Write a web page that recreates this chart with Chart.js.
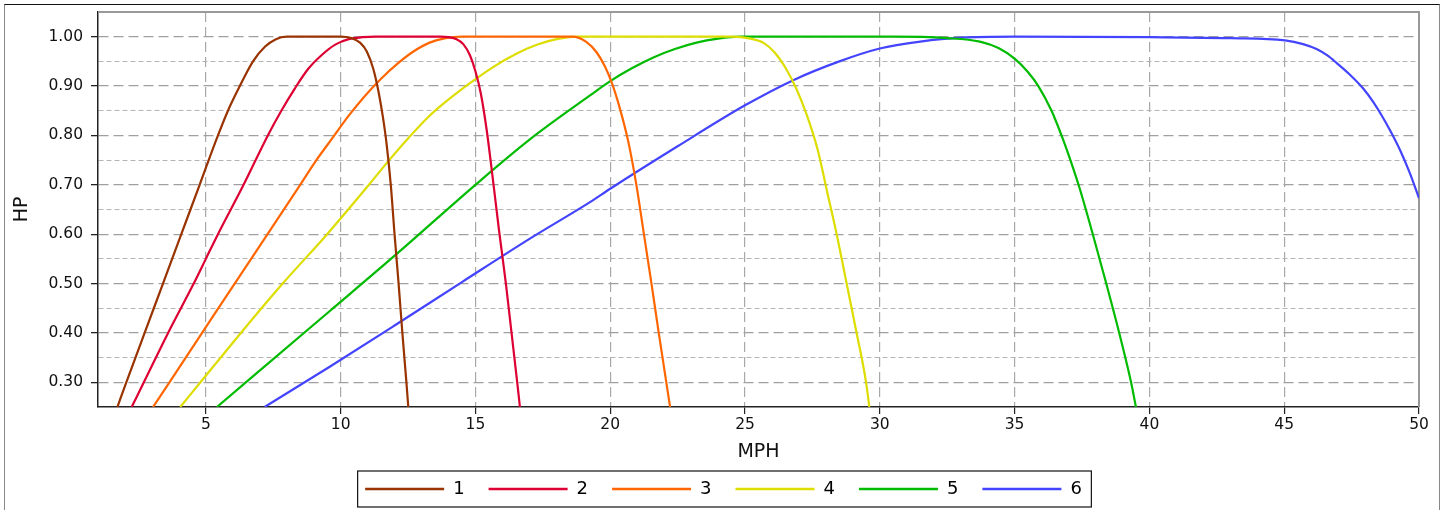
<!DOCTYPE html>
<html>
<head>
<meta charset="utf-8">
<script src="https://cdn.jsdelivr.net/npm/chart.js@4.4.1/dist/chart.umd.min.js"></script>
<style>
  html, body { margin: 0; padding: 0; background: #fff; }
  #wrap { position: relative; width: 1447px; height: 510px; overflow: hidden; }
  #frame { position: absolute; left: 4px; top: 4px; width: 1436px; height: 600px; box-sizing: border-box;
           border: 1.5px solid #888; border-top-color: #111; }
  #myChart { position: absolute; left: 0; top: 0; }
</style>
</head>
<body>
<div id="wrap">
  <div id="frame"></div>
  <canvas id="myChart" width="1447" height="510"></canvas>
</div>
<script>
// gear power curves (MPH -> HP fraction)
const seriesNames = ['1', '2', '3', '4', '5', '6'];
const seriesColors = ['#993300', '#DD0033', '#FF6600', '#DDDD00', '#00BB00', '#4444FF'];

const gear1X = [1.72, 2.05, 2.73, 3.41, 4.09, 4.77, 5.45, 5.82, 6.26, 6.75, 7.2, 7.6, 8.0, 9.0, 10.0, 10.4, 10.72, 10.97, 11.21, 11.4, 11.56, 11.7, 11.86, 12.0, 12.15, 12.29, 12.44, 12.51];
const gear1Y = [0.25, 0.30, 0.40, 0.50, 0.60, 0.70, 0.80, 0.85, 0.90, 0.95, 0.98, 0.995, 1.0, 1.0, 1.0, 0.997, 0.988, 0.97, 0.935, 0.89, 0.84, 0.785, 0.70, 0.60, 0.50, 0.40, 0.30, 0.25];

const gear2X = [2.25, 2.7, 3.6, 4.55, 5.0, 5.45, 6.4, 7.3, 7.8, 8.3, 8.8, 9.3, 9.8, 10.3, 10.8, 11.3, 13.7, 14.0, 14.3, 14.55, 14.8, 15.0, 15.2, 15.42, 15.65, 15.87, 16.13, 16.34, 16.55, 16.65];
const gear2Y = [0.25, 0.30, 0.40, 0.50, 0.55, 0.60, 0.70, 0.80, 0.85, 0.895, 0.935, 0.963, 0.984, 0.995, 0.999, 1.0, 1.0, 0.999, 0.995, 0.985, 0.962, 0.93, 0.885, 0.81, 0.71, 0.61, 0.50, 0.40, 0.30, 0.25];

const gear3X = [3.04, 3.65, 4.86, 6.07, 7.29, 8.5, 9.1, 9.7, 10.3, 10.9, 11.5, 12.1, 12.7, 13.3, 13.9, 14.5, 18.6, 19.1, 19.5, 19.8, 20.07, 20.33, 20.66, 20.97, 21.25, 21.53, 21.8, 22.08, 22.22];
const gear3Y = [0.25, 0.30, 0.40, 0.50, 0.60, 0.70, 0.75, 0.795, 0.84, 0.88, 0.915, 0.945, 0.97, 0.988, 0.997, 1.0, 1.0, 0.99, 0.968, 0.94, 0.905, 0.86, 0.79, 0.70, 0.60, 0.50, 0.40, 0.30, 0.25];

const gear4X = [4.05, 4.8, 6.3, 7.85, 9.5, 11.05, 11.8, 12.55, 13.3, 14.1, 14.9, 15.7, 16.5, 17.3, 18.1, 18.8, 24.5, 25.2, 25.7, 26.1, 26.5, 26.9, 27.3, 27.7, 28.05, 28.4, 28.77, 29.14, 29.49, 29.61];
const gear4Y = [0.25, 0.30, 0.40, 0.50, 0.60, 0.70, 0.75, 0.797, 0.84, 0.877, 0.91, 0.94, 0.965, 0.984, 0.996, 1.0, 1.0, 0.996, 0.987, 0.968, 0.937, 0.895, 0.84, 0.77, 0.685, 0.60, 0.50, 0.40, 0.30, 0.25];

const gear5X = [5.41, 9.61, 12.08, 15.0, 17.02, 19.25, 20.0, 20.8, 21.6, 22.4, 23.2, 24.0, 24.8, 30.5, 32.5, 33.71, 34.4, 35.01, 35.5, 35.88, 36.37, 36.74, 37.07, 37.4, 37.9, 38.4, 38.88, 39.32, 39.5];
const gear5Y = [0.25, 0.445, 0.56, 0.70, 0.792, 0.881, 0.91, 0.936, 0.958, 0.975, 0.988, 0.996, 1.0, 1.0, 0.997, 0.99, 0.977, 0.955, 0.928, 0.90, 0.85, 0.80, 0.75, 0.695, 0.60, 0.50, 0.40, 0.30, 0.25];

const gear6X = [7.18, 9.61, 12.0, 14.5, 17.02, 19.25, 20.0, 22.5, 25.0, 26.79, 28.5, 30.0, 31.5, 33.0, 35.0, 40.0, 43.0, 45.03, 45.7, 46.2, 46.6, 46.94, 47.4, 47.93, 48.3, 48.6, 48.98, 49.3, 49.65, 50.0];
const gear6Y = [0.25, 0.332, 0.415, 0.503, 0.591, 0.665, 0.692, 0.778, 0.861, 0.912, 0.95, 0.976, 0.99, 0.998, 1.0, 0.999, 0.997, 0.9925, 0.985, 0.975, 0.962, 0.947, 0.925, 0.895, 0.868, 0.842, 0.805, 0.77, 0.725, 0.673];

const xTickValues = [5, 10, 15, 20, 25, 30, 35, 40, 45, 50];
const yTickValues = [0.30, 0.35, 0.40, 0.45, 0.50, 0.55, 0.60, 0.65, 0.70, 0.75, 0.80, 0.85, 0.90, 0.95, 1.00];

const gearsX = [gear1X, gear2X, gear3X, gear4X, gear5X, gear6X];
const gearsY = [gear1Y, gear2Y, gear3Y, gear4Y, gear5Y, gear6Y];

Chart.defaults.font.family = '"DejaVu Sans", sans-serif';
Chart.defaults.color = '#111';

const isMajor = v => Math.round(v * 100) % 10 === 0;

let datasets = gearsX.map(function (xs, i) {
    return {
        label: seriesNames[i],
        data: xs.map((x, j) => ({ x: x, y: gearsY[i][j] })),
        borderColor: seriesColors[i],
        backgroundColor: seriesColors[i],
        borderWidth: 2.2,
        pointRadius: 0,
        cubicInterpolationMode: 'monotone',
        fill: false,
    };
});

// gray top/right frame of the plot + box round the legend
const framePlugin = {
    id: 'framePlugin',
    beforeDatasetsDraw(chart) {
        const { ctx, chartArea: a } = chart;
        ctx.save();
        ctx.strokeStyle = '#999';
        ctx.lineWidth = 2;
        ctx.beginPath();
        ctx.moveTo(a.left, a.top);
        ctx.lineTo(a.right, a.top);
        ctx.lineTo(a.right, a.bottom);
        ctx.stroke();
        ctx.restore();
    },
    afterDraw(chart) {
        const boxes = chart.legend.legendHitBoxes;
        if (!boxes || !boxes.length) return;
        const first = boxes[0], last = boxes[boxes.length - 1];
        const mid = first.top + first.height / 2;
        const ctx = chart.ctx;
        ctx.save();
        ctx.strokeStyle = '#111';
        ctx.lineWidth = 1.2;
        ctx.strokeRect(first.left - 7.5, mid - 18, last.left + last.width - first.left + 17, 36);
        ctx.restore();
    }
};

new Chart(document.getElementById('myChart'), {
    type: 'line',
    data: { datasets: datasets },
    plugins: [framePlugin],
    options: {
        responsive: false,
        animation: false,
        layout: { padding: { top: 12, left: 0, right: 0, bottom: 2 } },
        plugins: {
            tooltip: { enabled: false },
            legend: {
                position: 'bottom',
                labels: {
                    boxWidth: 79,
                    boxHeight: 2.5,
                    padding: 24,
                    color: '#111',
                    font: { size: 18 },
                    generateLabels: chart => chart.data.datasets.map((ds, i) => ({
                        text: ds.label,
                        fillStyle: ds.borderColor,
                        strokeStyle: ds.borderColor,
                        lineWidth: 0,
                        hidden: false,
                        datasetIndex: i,
                    })),
                },
            },
        },
        scales: {
            x: {
                type: 'linear',
                min: 1,
                max: 50,
                afterBuildTicks: s => { s.ticks = xTickValues.map(v => ({ value: v })); },
                afterFit: s => { s.height = 49; },
                ticks: { autoSkip: false, maxRotation: 0, padding: 2, font: { size: 15.5 }, color: '#111' },
                grid: {
                    color: c => (c.tick && c.tick.value < 50 ? '#a8a8a8' : 'rgba(0,0,0,0)'),
                    lineWidth: 1.2,
                    tickColor: '#222',
                    tickLength: 7,
                },
                border: { color: '#222', width: 1.5, dash: c => (c.tick ? [10, 5] : []) },
                title: {
                    display: true,
                    text: 'MPH',
                    font: { size: 19, lineHeight: 1 },
                    padding: { top: 0, bottom: -5.5 },
                    color: '#111',
                },
            },
            y: {
                min: 0.25,
                max: 1.05,
                afterBuildTicks: s => { s.ticks = yTickValues.map(v => ({ value: v })); },
                afterFit: s => { s.width = 98; s.paddingTop = 0; s.paddingBottom = 0; },
                ticks: {
                    autoSkip: false,
                    padding: 8,
                    font: { size: 15.5 },
                    color: '#111',
                    callback: v => (isMajor(v) ? v.toFixed(2) : ''),
                },
                grid: {
                    color: c => (c.tick && isMajor(c.tick.value) ? '#a0a0a0' : '#b4b4b4'),
                    lineWidth: c => (c.tick && isMajor(c.tick.value) ? 1.3 : 1),
                    tickColor: c => (c.tick && isMajor(c.tick.value) ? '#222' : 'rgba(0,0,0,0)'),
                    tickLength: 7,
                },
                border: { color: '#222', width: 1.5, dash: c => (c.tick ? (isMajor(c.tick.value) ? [10, 5] : [5, 3]) : []) },
                title: {
                    display: true,
                    text: 'HP',
                    font: { size: 19, lineHeight: 1 },
                    padding: { top: 12.5, bottom: 0 },
                    color: '#111',
                },
            },
            // spacer so the plot ends where the picture's does
            y2: {
                position: 'right',
                display: true,
                afterFit: s => { s.width = 28; s.paddingTop = 0; s.paddingBottom = 0; },
                ticks: { display: false },
                grid: { display: false, drawOnChartArea: false },
                border: { display: false },
            },
        },
    },
});
</script>
</body>
</html>
